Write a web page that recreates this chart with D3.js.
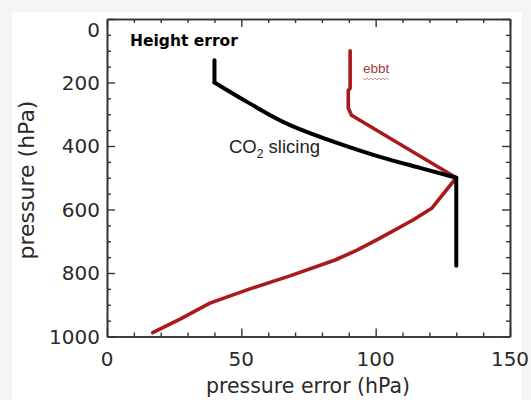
<!DOCTYPE html>
<html>
<head>
<meta charset="utf-8">
<script src="https://cdn.jsdelivr.net/npm/d3@7"></script>
<style>
  html, body { margin: 0; padding: 0; background: #f4f4f4; }
  svg { display: block; }
</style>
</head>
<body>
<div id="chart"></div>
<script>
const w = 531;
const h = 400;

// CO2 slicing curve (black)
const co2Error = [40, 40, 52.1, 68.1, 85.6, 101.6, 116.5, 130, 130];
const co2Press = [130, 200, 261, 334, 390, 434, 469, 500, 777];

// ebbt curve (red)
const ebbtError = [90.5, 90.5, 89.8, 89.8, 91, 130, 121, 113.9, 101.6, 93.1, 84.9, 68.1, 53.2, 38.3, 27.2, 17];
const ebbtPress = [100, 218, 225, 280, 303, 500, 595, 633, 690, 728, 759, 809, 850, 895, 945, 988];

const xMajor = [0, 50, 100, 150];
const xMinor = [10, 20, 30, 40, 60, 70, 80, 90, 110, 120, 130, 140];
const yMajor = [0, 200, 400, 600, 800, 1000];
const yMinor = [50, 100, 150, 250, 300, 350, 450, 500, 550, 650, 700, 750, 850, 900, 950];

const svg = d3.select('#chart')
  .append('svg')
  .attr('width', w)
  .attr('height', h);

// white panel on a light grey page
svg.append('rect')
  .attr('x', 12).attr('y', 12)
  .attr('width', 510).attr('height', h - 12)
  .attr('fill', '#fff');

const x = d3.scaleLinear().domain([0, 150]).range([107, 510]);
const y = d3.scaleLinear().domain([0, 1000]).range([19, 336.5]);

const axisColor = '#333';

function styleAxis(g) {
  g.select('.domain').attr('stroke', axisColor).attr('stroke-width', 1.6);
  g.selectAll('.tick line').attr('stroke', axisColor).attr('stroke-width', 1.4);
  g.selectAll('.tick text').remove();
}

// major + minor ticks on all four sides, pointing inward
const axes = [
  [d3.axisBottom, `translate(0,${y(1000)})`, x, xMajor, xMinor],
  [d3.axisTop, `translate(0,${y(0)})`, x, xMajor, xMinor],
  [d3.axisLeft, `translate(${x(0)},0)`, y, yMajor, yMinor],
  [d3.axisRight, `translate(${x(150)},0)`, y, yMajor, yMinor],
];

axes.forEach(([axisFn, tr, sc, major, minor]) => {
  svg.append('g')
    .attr('transform', tr)
    .call(axisFn(sc).tickValues(minor).tickSizeInner(-4).tickSizeOuter(0).tickFormat(''))
    .call(styleAxis);
  svg.append('g')
    .attr('transform', tr)
    .call(axisFn(sc).tickValues(major).tickSizeInner(-8).tickSizeOuter(0).tickFormat(''))
    .call(styleAxis);
});

const labelFont = '"DejaVu Sans", Verdana, sans-serif';

// y tick labels
svg.append('g')
  .selectAll('text')
  .data(yMajor)
  .enter()
  .append('text')
  .attr('x', 100)
  .attr('y', d => y(d) + (d === 0 ? 11 : 0))
  .attr('dy', '0.36em')
  .style('text-anchor', 'end')
  .style('font-family', labelFont)
  .style('font-size', '20px')
  .attr('fill', '#2a2a2a')
  .text(d => d);

// x tick labels
svg.append('g')
  .selectAll('text')
  .data(xMajor)
  .enter()
  .append('text')
  .attr('x', d => x(d))
  .attr('y', 366)
  .style('text-anchor', 'middle')
  .style('font-family', labelFont)
  .style('font-size', '20px')
  .attr('fill', '#2a2a2a')
  .text(d => d);

// axis titles
svg.append('text')
  .attr('x', 308)
  .attr('y', 393)
  .style('text-anchor', 'middle')
  .style('font-family', labelFont)
  .style('font-size', '20.5px')
  .attr('fill', '#2a2a2a')
  .text('pressure error (hPa)');

svg.append('text')
  .attr('transform', 'translate(34,180) rotate(-90)')
  .style('text-anchor', 'middle')
  .style('font-family', labelFont)
  .style('font-size', '22px')
  .attr('fill', '#2a2a2a')
  .text('pressure (hPa)');

// curves
const line = d3.line()
  .x(d => x(d[0]))
  .y(d => y(d[1]));

const smooth = d3.line()
  .x(d => x(d[0]))
  .y(d => y(d[1]))
  .curve(d3.curveMonotoneY);

function drawPath(pts, gen, color, width) {
  svg.append('path')
    .datum(pts)
    .attr('d', gen)
    .attr('fill', 'none')
    .attr('stroke', color)
    .attr('stroke-width', width)
    .attr('stroke-linejoin', 'round')
    .attr('stroke-linecap', 'round');
}

drawPath(d3.zip(ebbtError, ebbtPress), line, '#aa1a1a', 3.6);

// black: straight at top, smooth bend to the 500 hPa corner, straight down
const co2Pts = d3.zip(co2Error, co2Press);
const bend = co2Press.indexOf(200);
const corner = co2Press.indexOf(500);
drawPath(co2Pts.slice(0, bend + 1), line, '#000', 4);
drawPath(co2Pts.slice(bend, corner + 1), smooth, '#000', 4);
drawPath(co2Pts.slice(corner), line, '#000', 4);

// annotations
svg.append('text')
  .attr('x', 130)
  .attr('y', 46)
  .style('font-family', '"DejaVu Sans", Verdana, sans-serif')
  .style('font-weight', 'bold')
  .style('font-size', '15.5px')
  .attr('fill', '#000')
  .text('Height error');

const co2 = svg.append('text')
  .attr('x', 229)
  .attr('y', 153)
  .style('font-family', '"Liberation Sans", Arial, sans-serif')
  .style('font-size', '18.5px')
  .attr('fill', '#222');
co2.append('tspan').text('CO');
co2.append('tspan').attr('dy', 5).style('font-size', '12px').text('2');
co2.append('tspan').attr('dy', -5).text(' slicing');

svg.append('text')
  .attr('x', 363)
  .attr('y', 73)
  .style('font-family', '"Liberation Sans", Arial, sans-serif')
  .style('font-size', '13.5px')
  .attr('fill', '#a33a3a')
  .text('ebbt');

// spell-check squiggle under "ebbt"
let squiggle = 'M363,78';
for (let i = 1; i <= 13; i++) {
  squiggle += `L${363 + i * 2},${i % 2 ? 80 : 78}`;
}
svg.append('path')
  .attr('d', squiggle)
  .attr('fill', 'none')
  .attr('stroke', '#c77')
  .attr('stroke-width', 0.8);
</script>
</body>
</html>
